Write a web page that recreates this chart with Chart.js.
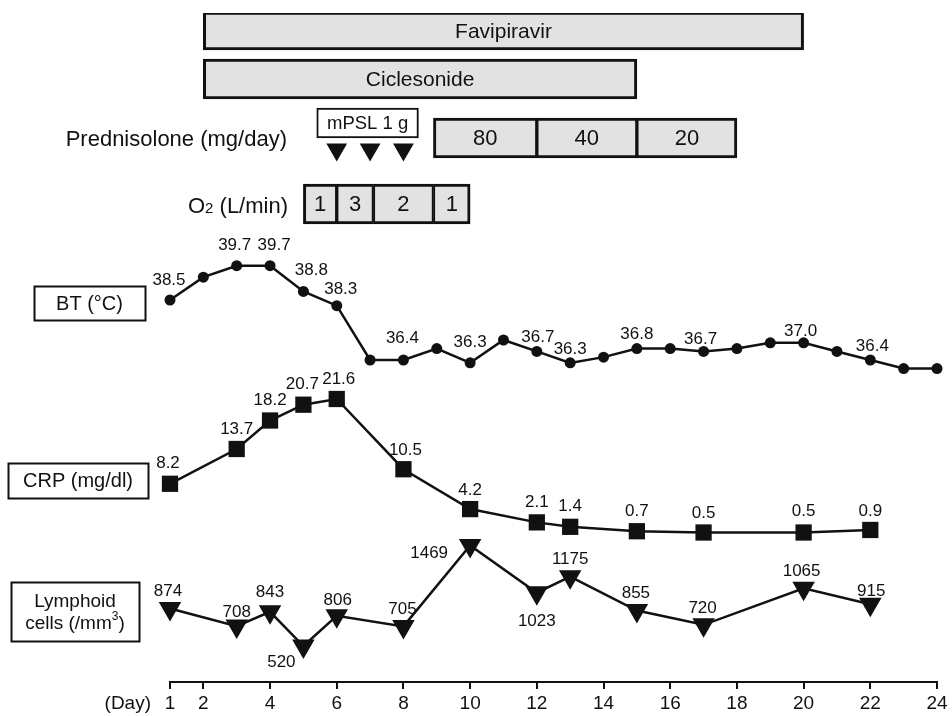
<!DOCTYPE html>
<html lang="en">
<head>
<meta charset="UTF-8" />
<title>Clinical course</title>
<script src="https://cdn.jsdelivr.net/npm/chart.js"></script>
<style>
  html, body { margin: 0; padding: 0; background: #fff; }
  #wrap { width: 952px; height: 716px; position: relative; }
</style>
</head>
<body>
<div id="wrap"><canvas id="course"></canvas></div>
<script>
// ---- values ----
const dayTicks = [1, 2, 4, 6, 8, 10, 12, 14, 16, 18, 20, 22, 24];

const btDays = [1, 2, 3, 4, 5, 6, 7, 8, 9, 10, 11, 12, 13, 14, 15, 16, 17, 18, 19, 20, 21, 22, 23, 24];
const btValues = [38.5, 39.3, 39.7, 39.7, 38.8, 38.3, 36.4, 36.4, 36.8, 36.3, 37.1, 36.7,
                  36.3, 36.5, 36.8, 36.8, 36.7, 36.8, 37.0, 37.0, 36.7, 36.4, 36.1, 36.1];
const btPrinted = [1, 3, 4, 5, 6, 8, 10, 12, 13, 15, 17, 20, 22];

const crpDays = [1, 3, 4, 5, 6, 8, 10, 12, 13, 15, 17, 20, 22];
const crpValues = [8.2, 13.7, 18.2, 20.7, 21.6, 10.5, 4.2, 2.1, 1.4, 0.7, 0.5, 0.5, 0.9];

const lymDays = [1, 3, 4, 5, 6, 8, 10, 12, 13, 15, 17, 20, 22];
const lymValues = [874, 708, 843, 520, 806, 705, 1469, 1023, 1175, 855, 720, 1065, 915];

// treatment periods, [first day, last day]
const faviSpan = [[2, 20]];
const cicleSpan = [[2, 15]];
const pslSpans = [[8.9, 12], [12, 15], [15, 18]];
const pslDoses = ['80', '40', '20'];
const mpslSpan = [[5.4, 8.45]];
const mpslDays = [6, 7, 8];
const o2Spans = [[5, 6], [6, 7.1], [7.1, 8.9], [8.9, 10]];
const o2Flows = ['1', '3', '2', '1'];

// ---- layout ----
const FONT = "'Liberation Sans', Arial, Helvetica, sans-serif";
const INK = '#111';
const GREY = '#e2e2e2';
const AXIS_Y = 682;            // where the day axis line should sit
const ROW = { favi: 31, cicle: 79, mpsl: 123, psl: 138, pulse: 149.5, o2: 204 };

// label nudges [dx, dy] in px, one per printed value
const btNudge = [[-1, -20], [-2, -20], [4, -20], [8, -21], [4, -16], [-1, -22], [0, -21],
                 [1, -14], [0, -14], [0, -14], [-3, -12], [-3, -12], [2, -14]];
const crpNudge = [[-2, -20], [0, -20], [0, -20], [-1, -20], [2, -20], [2, -19], [0, -19],
                  [0, -20], [0, -20], [0, -20], [0, -19], [0, -21], [0, -19]];
const lymNudge = [[-2, -17], [0, -14], [0, -19], [-22, 16], [1, -15], [-1, -17], [-41, 8],
                  [0, 29], [0, -17], [-1, -17], [-1, -17], [-2, -17], [1, -13]];

// min/max so that value v1 lands on pixel p1 and v2 on p2, for a plot from top to bottom
function axisRange(v1, p1, v2, p2, top, bottom) {
  const k = (p1 - p2) / (v2 - v1);
  return { min: v1 - (bottom - p1) / k, max: v1 + (p1 - top) / k };
}

function edgeBorder(n, w) {
  return ctx => {
    if (ctx.type !== 'data') return w;
    const i = ctx.dataIndex;
    return { top: w, bottom: w, left: i === 0 ? w : 2, right: i === n - 1 ? w : 2 };
  };
}

function barSet(spans, row, thick, labels, size, extra) {
  return Object.assign({
    type: 'bar', indexAxis: 'y', xAxisID: 'x', yAxisID: 'yRows',
    data: spans.map(s => ({ x: s, y: row })),
    barThickness: thick, grouped: false,
    backgroundColor: GREY, borderColor: INK, borderSkipped: false,
    borderWidth: edgeBorder(spans.length, 3),
    barLabels: labels, labelSize: size
  }, extra || {});
}

function lineSet(days, values, axis, style, radius, printed, nudge, fmt) {
  const labels = printed.map((d, j) => {
    const i = days.indexOf(d);
    return { index: i, text: fmt(values[i]), dx: nudge[j][0], dy: nudge[j][1] };
  });
  return {
    type: 'line', xAxisID: 'x', yAxisID: axis,
    data: days.map((d, i) => ({ x: d, y: values[i] })),
    borderColor: INK, borderWidth: 2.5, tension: 0, clip: false,
    pointStyle: style, pointRadius: radius, rotation: style === 'triangle' ? 180 : 0,
    pointBackgroundColor: INK, pointBorderColor: INK, pointBorderWidth: 0,
    valueLabels: labels
  };
}

function boxed(ctx, x, y, w, h) {
  ctx.lineWidth = 2;
  ctx.strokeStyle = INK;
  ctx.strokeRect(x + 0.5, y + 0.5, w, h);
}

const annotate = {
  id: 'annotate',
  afterDatasetsDraw(chart) {
    const ctx = chart.ctx;
    ctx.save();
    ctx.fillStyle = INK;
    ctx.textAlign = 'center';
    ctx.textBaseline = 'middle';
    chart.data.datasets.forEach((ds, di) => {
      const meta = chart.getDatasetMeta(di);
      if (ds.barLabels) {
        ctx.font = ds.labelSize + 'px ' + FONT;
        meta.data.forEach((el, i) => {
          ctx.fillText(ds.barLabels[i], (el.x + el.base) / 2, el.y + 1);
        });
      }
      if (ds.valueLabels) {
        ctx.font = '17px ' + FONT;
        ds.valueLabels.forEach(l => {
          const el = meta.data[l.index];
          ctx.fillText(l.text, el.x + l.dx, el.y + l.dy);
        });
      }
    });

    // row titles
    ctx.textAlign = 'right';
    ctx.font = '22px ' + FONT;
    ctx.fillText('Prednisolone (mg/day)', 287, 140);

    ctx.textBaseline = 'alphabetic';
    const tail = ' (L/min)';
    const wTail = ctx.measureText(tail).width;
    ctx.fillText(tail, 288, 213);
    ctx.font = '15px ' + FONT;
    const wTwo = ctx.measureText('2').width;
    ctx.fillText('2', 288 - wTail, 213);
    ctx.font = '22px ' + FONT;
    ctx.fillText('O', 288 - wTail - wTwo, 213);

    // boxed series titles
    ctx.textAlign = 'center';
    ctx.textBaseline = 'middle';
    boxed(ctx, 34, 286, 111, 34);
    ctx.font = '20px ' + FONT;
    ctx.fillText('BT (°C)', 89.5, 304);
    boxed(ctx, 8, 463, 140, 35);
    ctx.fillText('CRP (mg/dl)', 78, 481);
    boxed(ctx, 11, 582, 128, 59);
    ctx.font = '19px ' + FONT;
    ctx.fillText('Lymphoid', 75, 602);
    const a = 'cells (/mm', b = ')';
    const wa = ctx.measureText(a).width, wb = ctx.measureText(b).width;
    ctx.font = '12px ' + FONT;
    const w3 = ctx.measureText('3').width;
    const x0 = 75 - (wa + w3 + wb) / 2;
    ctx.textAlign = 'left';
    ctx.fillText('3', x0 + wa, 617);
    ctx.font = '19px ' + FONT;
    ctx.fillText(a, x0, 624);
    ctx.fillText(b, x0 + wa + w3, 624);

    ctx.textAlign = 'right';
    ctx.fillText('(Day)', 151, 704);
    ctx.restore();
  }
};

const pulse = {
  type: 'line', xAxisID: 'x', yAxisID: 'yRows', showLine: false, clip: false,
  data: mpslDays.map(d => ({ x: d, y: ROW.pulse })),
  pointStyle: 'triangle', rotation: 180, pointRadius: 12,
  pointBackgroundColor: INK, pointBorderWidth: 0
};

const chart = new Chart(document.getElementById('course'), {
  type: 'line',
  data: {
    datasets: [
      barSet(faviSpan, ROW.favi, 38, ['Favipiravir'], 21),
      barSet(cicleSpan, ROW.cicle, 40, ['Ciclesonide'], 21),
      barSet(pslSpans, ROW.psl, 40, pslDoses, 22),
      barSet(mpslSpan, ROW.mpsl, 30, ['mPSL 1 g'], 18.5, { backgroundColor: '#fff', borderWidth: 2 }),
      barSet(o2Spans, ROW.o2, 40, o2Flows, 22),
      pulse,
      lineSet(btDays, btValues, 'yBT', 'circle', 5.5, btPrinted, btNudge, v => v.toFixed(1)),
      lineSet(crpDays, crpValues, 'yCRP', 'rect', 11.5, crpDays, crpNudge, v => v.toFixed(1)),
      lineSet(lymDays, lymValues, 'yLym', 'triangle', 13, lymDays, lymNudge, v => String(v))
    ]
  },
  options: {
    responsive: true,
    maintainAspectRatio: false,
    animation: false,
    events: [],
    layout: { padding: { left: 170, right: 15, top: 0, bottom: 1 } },
    plugins: { legend: { display: false }, tooltip: { enabled: false } },
    scales: {
      x: {
        type: 'linear', min: 1, max: 24, offset: false, beginAtZero: false,
        afterBuildTicks: s => { s.ticks = dayTicks.map(v => ({ value: v })); },
        grid: { display: true, drawOnChartArea: false, drawTicks: true, tickLength: 7, color: INK, lineWidth: 2 },
        border: { display: true, color: INK, width: 2 },
        ticks: { color: INK, font: { family: FONT, size: 19 }, padding: 3, autoSkip: false, maxRotation: 0 }
      },
      yRows: { type: 'linear', display: false, min: 0, max: 716, reverse: true, offset: false },
      yBT: { type: 'linear', display: false, min: 0, max: 1 },
      yCRP: { type: 'linear', display: false, min: 0, max: 1 },
      yLym: { type: 'linear', display: false, min: 0, max: 1 }
    }
  },
  plugins: [annotate]
});

// put the day axis where it belongs, then map each series onto its band
chart.options.layout.padding.bottom += chart.chartArea.bottom - AXIS_Y;
chart.update();
(function fitAxes() {
  const { top, bottom } = chart.chartArea;
  const s = chart.options.scales;
  s.yRows.min = top; s.yRows.max = bottom;           // row positions are canvas pixels
  Object.assign(s.yBT, axisRange(38.5, 300, 36.4, 360, top, bottom));
  Object.assign(s.yCRP, axisRange(0.5, 532.5, 21.6, 399, top, bottom));
  Object.assign(s.yLym, axisRange(520, 646, 1469, 545.5, top, bottom));
  chart.update();
})();
</script>
</body>
</html>
